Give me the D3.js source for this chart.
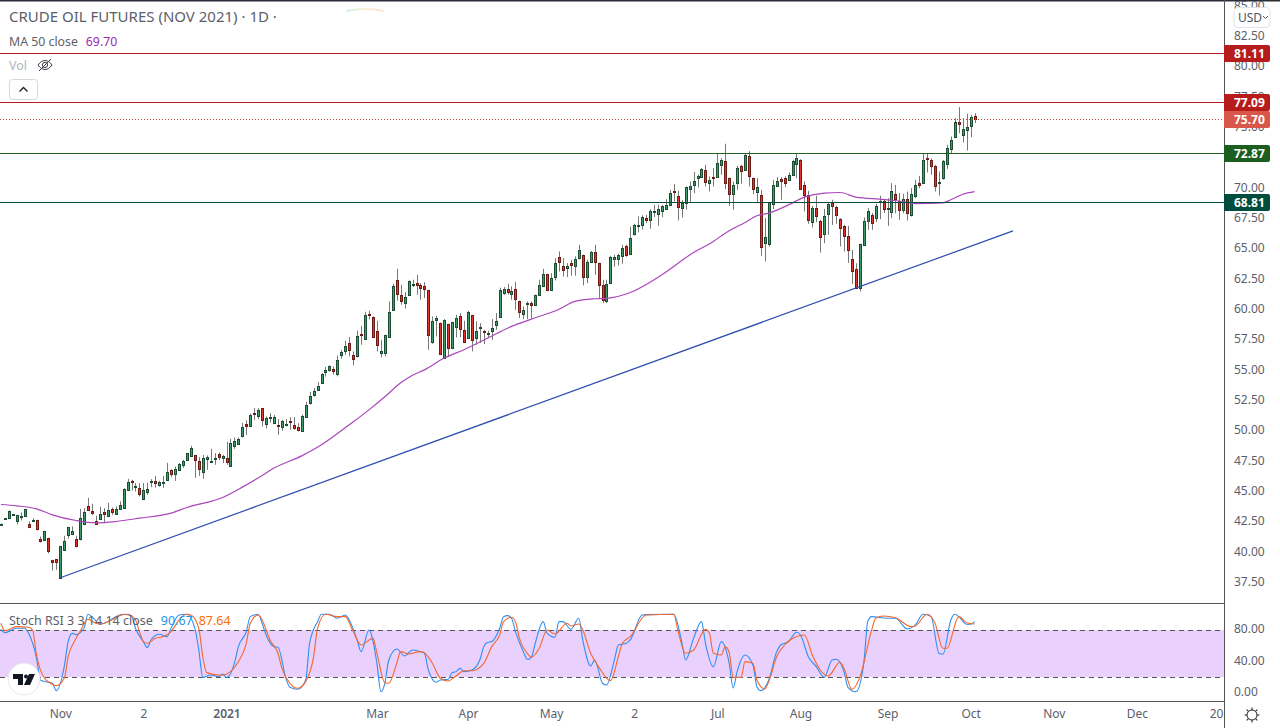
<!DOCTYPE html>
<html>
<head>
<meta charset="utf-8">
<script src="https://cdn.jsdelivr.net/npm/d3@7.9.0/dist/d3.min.js"></script>
<style>
body { margin: 0; background: #fff; }
svg { display: block; font-family: "Noto Sans", sans-serif; }
.domain { display: none; }
</style>
</head>
<body>
<svg id="chart" width="1280" height="728"></svg>
<script>
// daily candles, bar 0 is the first one visible on the left
const opens = [
42.25,42.74,42.75,43.07,42.50,42.96,42.91,42.31,42.60,42.61,
41.07,40.93,41.13,39.31,39.39,37.80,40.11,41.35,41.48,41.04,
41.02,42.25,43.76,43.35,42.53,42.66,43.32,42.99,43.52,43.08,
43.49,43.65,45.05,45.85,45.33,45.25,44.31,44.97,45.82,45.85,
45.47,45.63,45.88,46.73,46.37,46.70,47.12,47.58,47.86,47.97,
47.47,46.54,47.69,47.36,47.61,48.05,47.69,47.72,47.03,48.77,
48.93,49.51,50.55,50.41,51.43,51.16,51.84,50.50,51.07,50.66,
50.44,50.25,50.44,50.77,50.44,50.28,50.00,51.10,52.23,52.97,
53.38,53.96,54.86,54.95,55.09,54.70,56.27,56.52,57.21,56.22,
56.11,57.96,57.54,59.62,59.35,58.19,56.35,56.38,57.70,59.90,
62.40,61.16,60.48,61.16,62.02,62.15,61.96,61.90,61.57,57.26,
59.16,58.85,55.97,58.77,56.77,58.50,59.43,58.28,57.62,59.51,
57.59,58.41,58.19,57.92,58.17,58.66,59.35,61.30,61.66,61.22,
61.66,60.67,59.57,60.39,60.50,60.34,61.16,61.90,62.89,61.57,
62.65,64.30,63.55,63.39,63.80,63.61,64.21,64.46,62.62,63.88,
64.73,63.80,61.99,60.70,62.20,64.18,64.13,64.35,65.20,64.51,
66.16,66.82,66.90,67.51,67.32,68.06,67.81,68.06,68.33,68.61,
69.76,69.32,68.39,68.74,69.87,70.20,70.78,70.89,71.47,70.37,
70.91,70.89,71.85,72.21,70.81,69.49,70.39,71.79,71.47,72.62,
70.81,69.65,69.40,65.45,65.34,68.66,70.12,70.72,70.81,70.64,
71.05,71.96,72.29,70.23,69.40,67.23,68.36,67.28,66.24,67.89,
68.77,68.44,67.42,66.85,66.02,64.12,63.30,61.71,65.25,67.31,
67.75,67.48,68.85,68.88,68.30,67.97,69.48,68.88,68.14,69.07,
67.72,69.29,70.39,70.42,72.45,72.29,71.79,70.36,70.83,71.93,
73.17,74.16,75.42,74.32,74.73,75.06,75.91];
const closes = [
42.28,42.77,43.35,43.10,43.02,42.99,43.52,42.09,42.64,41.84,
40.91,41.70,40.03,39.12,39.12,40.47,40.88,42.03,41.73,40.44,
42.77,43.27,43.46,43.16,42.31,43.10,43.16,43.46,43.24,43.52,
43.85,45.19,45.74,45.74,45.44,44.73,45.08,45.19,45.85,45.71,
45.74,45.74,46.57,46.37,46.81,47.23,47.47,48.13,48.54,47.53,
46.79,47.72,47.83,47.47,47.72,47.83,47.89,47.36,48.96,49.15,
49.31,50.28,50.41,51.29,51.32,51.68,50.83,51.02,51.13,51.13,
50.33,50.77,50.55,50.66,50.17,50.00,51.21,52.09,52.83,53.27,
53.69,54.67,55.00,55.31,54.95,55.83,56.49,56.96,56.60,55.86,
57.78,57.92,59.51,59.58,57.67,57.01,56.55,57.87,59.76,61.90,
61.22,60.64,61.00,62.32,62.10,61.96,61.71,61.63,57.84,59.02,
59.29,56.27,59.10,56.77,58.94,59.27,58.33,57.26,59.79,57.43,
58.19,58.52,58.08,58.03,58.44,59.02,61.57,61.66,61.38,61.49,
60.81,59.73,59.93,60.50,60.31,61.16,61.99,62.89,61.55,62.56,
63.80,63.86,63.20,63.55,63.61,64.16,64.90,62.62,63.88,64.73,
63.93,61.96,60.78,62.07,64.32,64.32,64.48,65.03,64.43,65.86,
66.93,66.93,67.59,67.32,68.08,68.11,68.25,68.47,68.63,69.57,
69.70,68.39,68.77,70.06,70.15,70.56,70.97,71.55,70.45,70.64,
70.87,72.04,72.29,70.39,69.49,70.23,71.63,71.36,72.70,70.97,
69.90,70.06,65.12,65.94,68.80,70.23,70.53,70.53,70.37,71.05,
72.21,72.45,69.90,69.40,67.34,68.36,67.70,65.99,67.70,68.69,
68.55,67.81,66.65,65.99,64.84,63.11,61.76,65.36,67.26,68.11,
67.07,68.49,68.88,68.22,68.33,69.73,69.04,68.14,69.07,67.92,
69.48,70.23,70.20,72.29,72.34,71.79,70.12,70.47,72.20,73.28,
73.94,75.42,75.23,74.84,75.01,75.83,75.67];
const highs = [
42.33,42.80,43.40,43.12,43.05,43.24,43.55,42.50,42.75,42.64,
41.26,41.74,41.16,39.34,39.41,40.49,41.32,42.06,42.09,41.32,
43.54,43.60,44.45,43.96,42.97,43.71,43.60,44.04,43.65,43.74,
44.15,45.25,46.02,45.93,45.66,45.66,45.66,45.71,45.99,46.26,
45.85,46.26,47.34,46.81,47.03,47.31,47.58,48.16,48.74,48.00,
47.80,47.99,47.94,48.49,48.13,48.19,48.00,49.07,49.31,49.42,
49.42,50.63,50.83,51.38,51.84,51.84,51.87,51.16,51.43,51.29,
50.94,50.88,50.94,51.10,51.10,50.61,51.32,52.37,53.19,53.50,
53.99,54.73,55.23,55.36,55.28,56.18,56.66,57.40,57.70,56.52,
58.22,58.63,59.79,59.87,59.40,59.05,57.48,57.90,60.64,62.10,
63.33,62.01,61.41,62.37,62.43,62.84,62.15,62.23,61.60,59.40,
59.46,58.90,59.18,58.80,58.97,59.54,59.68,59.05,59.87,59.54,
59.00,58.85,58.30,58.22,59.18,59.68,61.77,61.82,62.10,61.88,
62.26,60.70,60.23,60.64,60.64,61.20,62.43,63.33,62.92,62.98,
64.21,64.76,64.21,63.80,64.08,64.35,65.31,64.50,64.08,64.81,
65.31,63.83,62.43,62.43,64.40,64.48,64.56,65.31,65.31,66.82,
67.04,67.65,67.73,67.78,68.25,68.61,68.61,68.58,69.07,69.84,
70.31,69.76,69.02,70.12,70.53,71.30,71.11,71.63,71.90,70.94,
71.63,72.87,72.45,73.64,70.85,70.53,71.82,71.90,72.87,73.03,
70.85,70.81,69.84,67.51,68.85,70.67,70.89,70.89,70.94,71.27,
72.32,72.81,72.37,70.53,69.76,68.52,69.35,67.37,68.27,68.82,
69.02,68.52,67.50,66.95,66.87,64.89,63.79,65.40,67.56,68.33,
67.92,68.69,69.35,69.02,69.15,70.39,70.25,69.57,69.51,69.70,
69.98,70.67,70.99,72.86,72.86,72.42,71.90,71.35,72.31,73.55,
74.24,75.75,76.66,75.75,76.11,76.02,76.16];
const lows = [
42.20,42.72,42.70,43.05,42.25,42.58,42.88,41.95,42.58,41.76,
40.77,40.90,39.86,38.46,38.51,37.75,40.08,41.10,41.37,40.36,
40.93,42.20,43.38,43.02,42.25,42.63,42.36,42.96,43.05,43.05,
43.46,43.60,45.00,45.05,44.97,44.56,44.28,44.70,45.33,45.30,
45.38,45.27,45.85,46.15,45.85,46.66,46.92,47.55,47.83,46.10,
46.26,46.02,46.76,47.33,47.17,47.56,47.31,47.17,47.00,48.49,
48.90,49.42,49.64,50.39,50.88,50.94,50.33,50.17,50.66,50.63,
49.64,49.97,50.33,50.06,50.06,49.92,49.89,51.07,52.14,52.80,
53.30,53.93,54.45,54.84,54.62,54.46,55.91,56.24,56.11,55.36,
56.02,57.07,57.50,59.16,57.62,56.52,56.02,56.11,57.65,59.85,
60.70,60.37,60.04,61.13,61.82,61.19,60.78,60.92,56.66,57.15,
57.76,56.22,55.91,56.05,56.74,57.67,57.70,57.21,57.60,56.52,
57.07,57.21,57.12,57.62,57.48,58.30,59.30,61.19,61.19,60.78,
59.95,59.27,59.18,59.18,59.27,60.30,61.13,61.87,61.52,61.54,
62.37,63.11,62.70,62.65,62.76,62.76,64.10,61.96,62.15,63.85,
62.84,60.92,60.50,60.50,62.15,63.50,63.60,63.74,64.32,64.48,
66.08,66.33,66.55,67.10,66.63,67.59,66.88,67.59,68.30,68.52,
68.88,67.32,67.56,68.20,68.74,69.57,70.04,70.86,70.12,69.71,
70.12,70.86,71.08,69.90,68.52,68.20,69.84,70.34,71.44,70.12,
69.49,68.72,64.40,63.94,65.17,68.25,70.10,69.02,70.06,70.60,
71.00,70.81,69.84,68.06,67.04,66.74,67.17,64.67,65.44,66.13,
66.95,67.04,65.17,64.76,63.82,62.09,61.65,61.46,65.20,66.54,
66.54,67.17,67.42,67.92,66.87,67.50,67.92,67.37,67.92,67.31,
67.64,69.15,69.98,70.40,71.27,71.08,69.70,69.37,70.67,71.57,
72.81,74.10,74.51,73.74,73.08,74.18,75.34];

// 50 day MA, read at the bars where it bends
const maBars = [0,4,9,13,19,24,29,35,43,47,56,61,66,69,76,81,88,93,97,101,104,107,112,117,123,129,134,141,145,150,153,159,167,175,180,183,188,191,194,199,203,208,212,216,222,226,231,238,240,243,246];
const maValues = [43.90,43.79,43.54,43.05,42.58,42.39,42.50,42.77,43.19,43.65,44.48,45.33,46.29,46.90,47.91,48.82,50.47,51.70,52.78,53.93,54.55,55.00,55.97,56.66,57.62,58.58,59.18,60.00,60.64,60.86,60.90,61.38,62.84,64.68,65.58,66.27,67.15,67.70,67.92,68.60,69.24,69.57,69.62,69.24,69.07,68.96,68.71,68.77,69.02,69.48,69.70];

// stoch rsi
const kBars = [0,1,4,6,7,9,10,12,13,14,16,17,18,19,21,22,23,25,27,29,31,33,34,36,37,38,40,42,43,45,47,49,50,51,53,55,56,57,59,60,62,63,65,66,67,69,70,72,73,75,77,78,80,81,83,85,87,88,90,91,93,95,96,97,98,100,102,104,106,107,108,110,111,113,114,115,116,117,119,121,122,123,124,126,127,128,129,130,132,133,134,135,137,138,140,141,142,144,146,147,149,150,152,153,155,156,158,159,162,163,170,172,173,175,177,178,180,182,184,185,186,188,190,191,192,194,196,197,199,201,202,204,206,208,210,211,213,214,216,218,219,220,224,226,229,231,233,235,237,238,240,241,242,244,245,246];
const kValues = [80.8,76.6,82.1,82.1,75.7,43.8,16.1,13.2,11.9,2.5,33.2,65.1,75.7,74.0,82.1,100,97,87.6,90.6,97,100,97.9,82.1,65.1,57.4,68.1,74.5,71.5,82.1,99.2,100,82.1,54.4,19.5,22.5,20.4,23.8,19.1,37.4,58.7,77.9,97,100,88.5,73.6,58.7,57.9,18.3,6.8,4.2,16.1,63,90.6,100,100,94.9,99.1,92.8,67.2,52.3,80,37.4,1.2,11.9,41.7,55.7,46.8,54.4,52.3,50.2,28.9,13.2,16.1,17,25.5,26.8,31,26.8,28.9,41.7,58.7,64.2,65.1,82.1,97,98.3,94.9,77.9,52.3,42.5,45.1,63,90.6,75.7,70.6,90.6,90.6,80.8,94.9,67.2,34,41.7,11.9,9.7,41.7,60.8,63,67.2,99.1,99.6,100,65.1,41.7,69.3,90.6,63,33.2,65.1,37.4,5.8,26.8,48,35.3,7.6,2.5,16.1,52.3,60.8,65.1,77,73.6,45.9,33.2,19.5,41.7,42.5,26.8,6.8,1.2,37.4,90.6,97,94.9,94.9,81.3,86.4,100,97,50.2,48.9,92.8,100,97,87.2,87.2,90.67];
const dBars = [0,1,4,7,8,9,11,12,14,16,17,19,20,22,24,25,28,30,32,34,35,36,37,39,41,43,45,47,48,50,51,52,55,56,58,60,62,63,65,66,68,70,71,73,75,77,79,80,82,85,87,89,91,94,95,97,98,100,101,103,106,107,109,111,113,115,117,119,122,124,126,127,129,130,131,133,134,136,138,140,143,144,146,147,149,151,154,156,157,159,163,170,171,173,175,178,179,180,182,183,184,185,187,188,190,191,193,194,196,198,201,203,205,207,209,212,213,215,217,220,221,223,226,230,231,234,236,238,239,242,244,246];
const dValues = [88.5,79.1,84.2,83.4,80,48,18.3,14,8.9,18.3,45.9,69.3,77.9,93.6,88.5,87.2,92.8,98.3,100,92.8,77.9,65.1,63,69.3,71.5,77.9,92.8,100,99.1,82.1,45.9,25.5,22.5,22.5,26.8,39.5,63,88.5,99.1,92.8,67.2,50.2,31,11.9,5.5,14,45.9,82.1,100,97,97,77.9,60.8,69.3,50.2,12.7,11.9,37.4,52.3,49.3,52.3,51,37.4,18.3,14.9,21.2,28,28,37.4,58.7,73.6,90.6,96.2,90.6,69.3,50.2,45.1,56.6,80,74.9,88.5,85.1,87.6,80,50.2,33.2,15.3,45.9,63,71.5,99.1,100,80,50.2,54.4,80.8,75.7,50.2,48,58.7,51,19.5,19.5,39.5,37.4,16.1,4.6,14,46,60.8,71.5,73.6,48,28.9,21.2,38.7,31,4.2,19.5,80,94.9,97.9,95.7,84.2,85.1,100,88.5,56.6,56.6,97,89.3,87.64];

const priceTicks = [37.5,40,42.5,45,47.5,50,52.5,55,57.5,60,62.5,65,67.5,70,72.5,75,77.5,80,82.5,85];
const rsiTicks = [0,40,80];
const timeBars = [15,36,57,95,118,139,160,181,202,224,245,266,287,307];
const timeLabels = ["Nov","2","2021","Mar","Apr","May","2","Jul","Aug","Sep","Oct","Nov","Dec","20"];

const levelPrices = [81.11,77.09,72.87,68.81];
const levelColors = ["#b71c1c","#b71c1c","#1b5e20","#004d40"];
const lastPrice = 75.70;
const trendBars = [15,255.7];
const trendPrices = [37.86,66.46];
const rsiBand = [20,80];

const svg = d3.select("#chart");
const width = 1280, axisX = 1224, paneTop = 603, paneBottom = 701;
const grey = "#5d606b";

const x = d3.scaleLinear().domain([0,246]).range([0.9,974.6]);
const y = d3.scaleLinear().domain([40,80]).range([551.8,66.6]);
const yRsi = d3.scaleLinear().domain([0,100]).range([692.6,614.3]);

const defs = svg.append("defs");
defs.append("clipPath").attr("id","main")
    .append("rect").attr("width",axisX).attr("height",paneTop);
defs.append("clipPath").attr("id","lower")
    .append("rect").attr("y",paneTop).attr("width",axisX).attr("height",paneBottom-paneTop);
const glow = defs.append("linearGradient").attr("id","glow");
glow.append("stop").attr("offset","0").attr("stop-color","#7fd6b0");
glow.append("stop").attr("offset","0.5").attr("stop-color","#f5d08a");
glow.append("stop").attr("offset","1").attr("stop-color","#f5b08a");

const main = svg.append("g").attr("clip-path","url(#main)");
const lower = svg.append("g").attr("clip-path","url(#lower)");

// candles
const bars = d3.range(opens.length);
main.selectAll(".wick").data(bars).enter().append("line")
    .attr("class","wick")
    .attr("x1",i => Math.round(x(i))+0.5).attr("x2",i => Math.round(x(i))+0.5)
    .attr("y1",i => y(highs[i])).attr("y2",i => y(lows[i]))
    .attr("stroke","#787878").attr("stroke-width",1);
main.selectAll(".body").data(bars).enter().append("rect")
    .attr("class","body")
    .attr("x",i => Math.round(x(i))-0.5).attr("width",2)
    .attr("y",i => Math.round(y(Math.max(opens[i],closes[i])))+0.5)
    .attr("height",i => Math.max(1,Math.round(Math.abs(y(opens[i])-y(closes[i])))))
    .attr("fill",i => closes[i]>=opens[i] ? "#3f9a6b" : "#e0352b")
    .attr("stroke",i => closes[i]>=opens[i] ? "#1b4d33" : "#6e1a14")
    .attr("shape-rendering","crispEdges");

// MA
const lineMa = d3.line().x(d => x(d[0])).y(d => y(d[1])).curve(d3.curveMonotoneX);
main.append("path").datum(d3.zip(maBars,maValues))
    .attr("d",lineMa).attr("fill","none").attr("stroke","#ab47bc").attr("stroke-width",1.2);

// trend line
main.append("path").datum(d3.zip(trendBars,trendPrices))
    .attr("d",d3.line().x(d => x(d[0])).y(d => y(d[1])))
    .attr("fill","none").attr("stroke","#2a4caf").attr("stroke-width",1.2);

// horizontal levels
main.selectAll(".level").data(levelPrices).enter().append("line")
    .attr("class","level")
    .attr("x1",0).attr("x2",axisX)
    .attr("y1",d => Math.round(y(d))+0.5).attr("y2",d => Math.round(y(d))+0.5)
    .attr("stroke",(d,i) => levelColors[i]);
main.append("line")
    .attr("x1",0).attr("x2",axisX)
    .attr("y1",Math.round(y(lastPrice))+0.5).attr("y2",Math.round(y(lastPrice))+0.5)
    .attr("stroke","#c9483c").attr("stroke-dasharray","1,2");

// stoch pane
lower.append("rect")
    .attr("x",0).attr("width",axisX)
    .attr("y",yRsi(rsiBand[1])).attr("height",yRsi(rsiBand[0])-yRsi(rsiBand[1]))
    .attr("fill","#e9d0fd");
lower.selectAll(".band").data(rsiBand).enter().append("line")
    .attr("class","band")
    .attr("x1",0).attr("x2",axisX)
    .attr("y1",d => Math.round(yRsi(d))+0.5).attr("y2",d => Math.round(yRsi(d))+0.5)
    .attr("stroke","#555").attr("stroke-dasharray","5,4");
const lineRsi = d3.line().x(d => x(d[0])).y(d => yRsi(d[1])).curve(d3.curveMonotoneX);
lower.append("path").datum(d3.zip(kBars,kValues))
    .attr("d",lineRsi).attr("fill","none").attr("stroke","#2f8ff0").attr("stroke-width",1.1);
lower.append("path").datum(d3.zip(dBars,dValues))
    .attr("d",lineRsi).attr("fill","none").attr("stroke","#f4682c").attr("stroke-width",1.1);

// frame
svg.append("rect").attr("width",width).attr("height",1.5).attr("fill","#2a2e39");
svg.append("path").attr("d","M346,11Q365,7 384,11").attr("fill","none").attr("stroke","url(#glow)").attr("stroke-width",2).attr("opacity",0.35);
svg.append("line").attr("x1",0).attr("x2",axisX).attr("y1",paneTop+0.5).attr("y2",paneTop+0.5).attr("stroke","#555");
svg.append("line").attr("x1",0).attr("x2",axisX).attr("y1",paneBottom+0.5).attr("y2",paneBottom+0.5).attr("stroke","#555");
svg.append("line").attr("x1",axisX+0.5).attr("x2",axisX+0.5).attr("y1",0).attr("y2",728).attr("stroke","#555");

// axes
const axisStyle = g => g.selectAll("text").attr("fill",grey).style("font-size","12px").style("font-family",'"Noto Sans", sans-serif');
svg.append("g").attr("transform",`translate(${axisX},-0.5)`)
    .call(d3.axisRight(y).tickValues(priceTicks).tickFormat(d3.format(".2f")).tickSize(0).tickPadding(10))
    .call(axisStyle);
svg.append("g").attr("transform",`translate(${axisX},-1)`)
    .call(d3.axisRight(yRsi).tickValues(rsiTicks).tickFormat(d3.format(".2f")).tickSize(0).tickPadding(10))
    .call(axisStyle);
svg.append("g").attr("transform",`translate(0,${paneBottom+4})`)
    .call(d3.axisBottom(x).tickValues(timeBars).tickFormat((d,i) => timeLabels[i]).tickSize(0).tickPadding(4))
    .call(axisStyle)
    .selectAll("text").style("font-weight",(d,i) => timeLabels[i]==="2021" ? 600 : 400);

// price labels
const labelData = [[levelPrices[0],levelColors[0]],[levelPrices[1],levelColors[1]],[lastPrice,"#d9574a"],[levelPrices[2],levelColors[2]],[levelPrices[3],levelColors[3]]];
const labels = svg.append("g").selectAll("g").data(labelData).enter().append("g")
    .attr("transform",d => `translate(${axisX},${Math.round(y(d[0]))+0.5})`);
labels.append("path")
    .attr("d","M0,-8.5H44a2,2 0 0 1 2,2V6.5a2,2 0 0 1 -2,2H0Z")
    .attr("fill",d => d[1]);
labels.append("text").attr("x",10).attr("y",4.5)
    .attr("fill","#fff").style("font-size","12px").style("font-weight",700)
    .text(d => d[0].toFixed(2));

// legend
svg.append("text").attr("x",9).attr("y",22).attr("fill",grey).style("font-size","15px")
    .text("CRUDE OIL FUTURES (NOV 2021) · 1D ·");
const maLegend = svg.append("text").attr("x",9).attr("y",46).attr("fill",grey).style("font-size","12.3px");
maLegend.append("tspan").text("MA 50 close");
maLegend.append("tspan").attr("dx",8).attr("fill","#9c27b0").text(maValues[maValues.length-1].toFixed(2));
svg.append("text").attr("x",9).attr("y",70).attr("fill","#b2b5be").style("font-size","12.5px").text("Vol");
const rsiLegend = svg.append("text").attr("x",9).attr("y",625).attr("fill",grey).style("font-size","12.5px");
rsiLegend.append("tspan").text("Stoch RSI 3 3 14 14 close");
rsiLegend.append("tspan").attr("dx",8).attr("fill","#2196f3").text(kValues[kValues.length-1].toFixed(2));
rsiLegend.append("tspan").attr("dx",6).attr("fill","#ff6d00").text(dValues[dValues.length-1].toFixed(2));

// eye icon
const eye = svg.append("g").attr("transform","translate(45,65)").attr("fill","none").attr("stroke","#3a3d45").attr("stroke-width",1);
eye.append("path").attr("d","M-7,0C-3,-6 3,-6 7,0C3,6 -3,6 -7,0Z");
eye.append("circle").attr("r",2.6);
eye.append("path").attr("d","M-6,6L6,-6");

// collapse button
svg.append("rect").attr("x",9.5).attr("y",79.5).attr("width",28).attr("height",20).attr("rx",3)
    .attr("fill","#fff").attr("stroke","#d6d8e0");
svg.append("path").attr("d","M19.5,91.5L23.5,87.5L27.5,91.5").attr("fill","none").attr("stroke","#222").attr("stroke-width",1.4);

// currency box
svg.append("rect").attr("x",1234).attr("y",7.5).attr("width",36).attr("height",20).attr("rx",4)
    .attr("fill","#fff").attr("stroke","#e0e3eb");
svg.append("text").attr("x",1238).attr("y",22).attr("fill","#4a5568").style("font-size","12px").text("USD");
svg.append("path").attr("d","M1263,16L1265.5,18.5L1268,16").attr("fill","none").attr("stroke","#555");

// gear icon
const gear = svg.append("g").attr("transform","translate(1252,715)").attr("fill","none").attr("stroke","#222");
gear.append("circle").attr("r",5);
gear.selectAll("line").data(d3.range(8)).enter().append("line")
    .attr("y1",-5).attr("y2",-7.5).attr("transform",d => `rotate(${d*45})`);

// logo
const logo = svg.append("g");
logo.append("circle").attr("cx",24).attr("cy",679).attr("r",16).attr("fill","#fff").attr("stroke","#e6e7ec");
logo.append("path").attr("d","M13,674H23V685H18V679H13Z").attr("fill","#131722");
logo.append("circle").attr("cx",26).attr("cy",676.5).attr("r",2).attr("fill","#131722");
logo.append("path").attr("d","M29,674H35L30,685H24Z").attr("fill","#131722");
</script>
</body>
</html>
